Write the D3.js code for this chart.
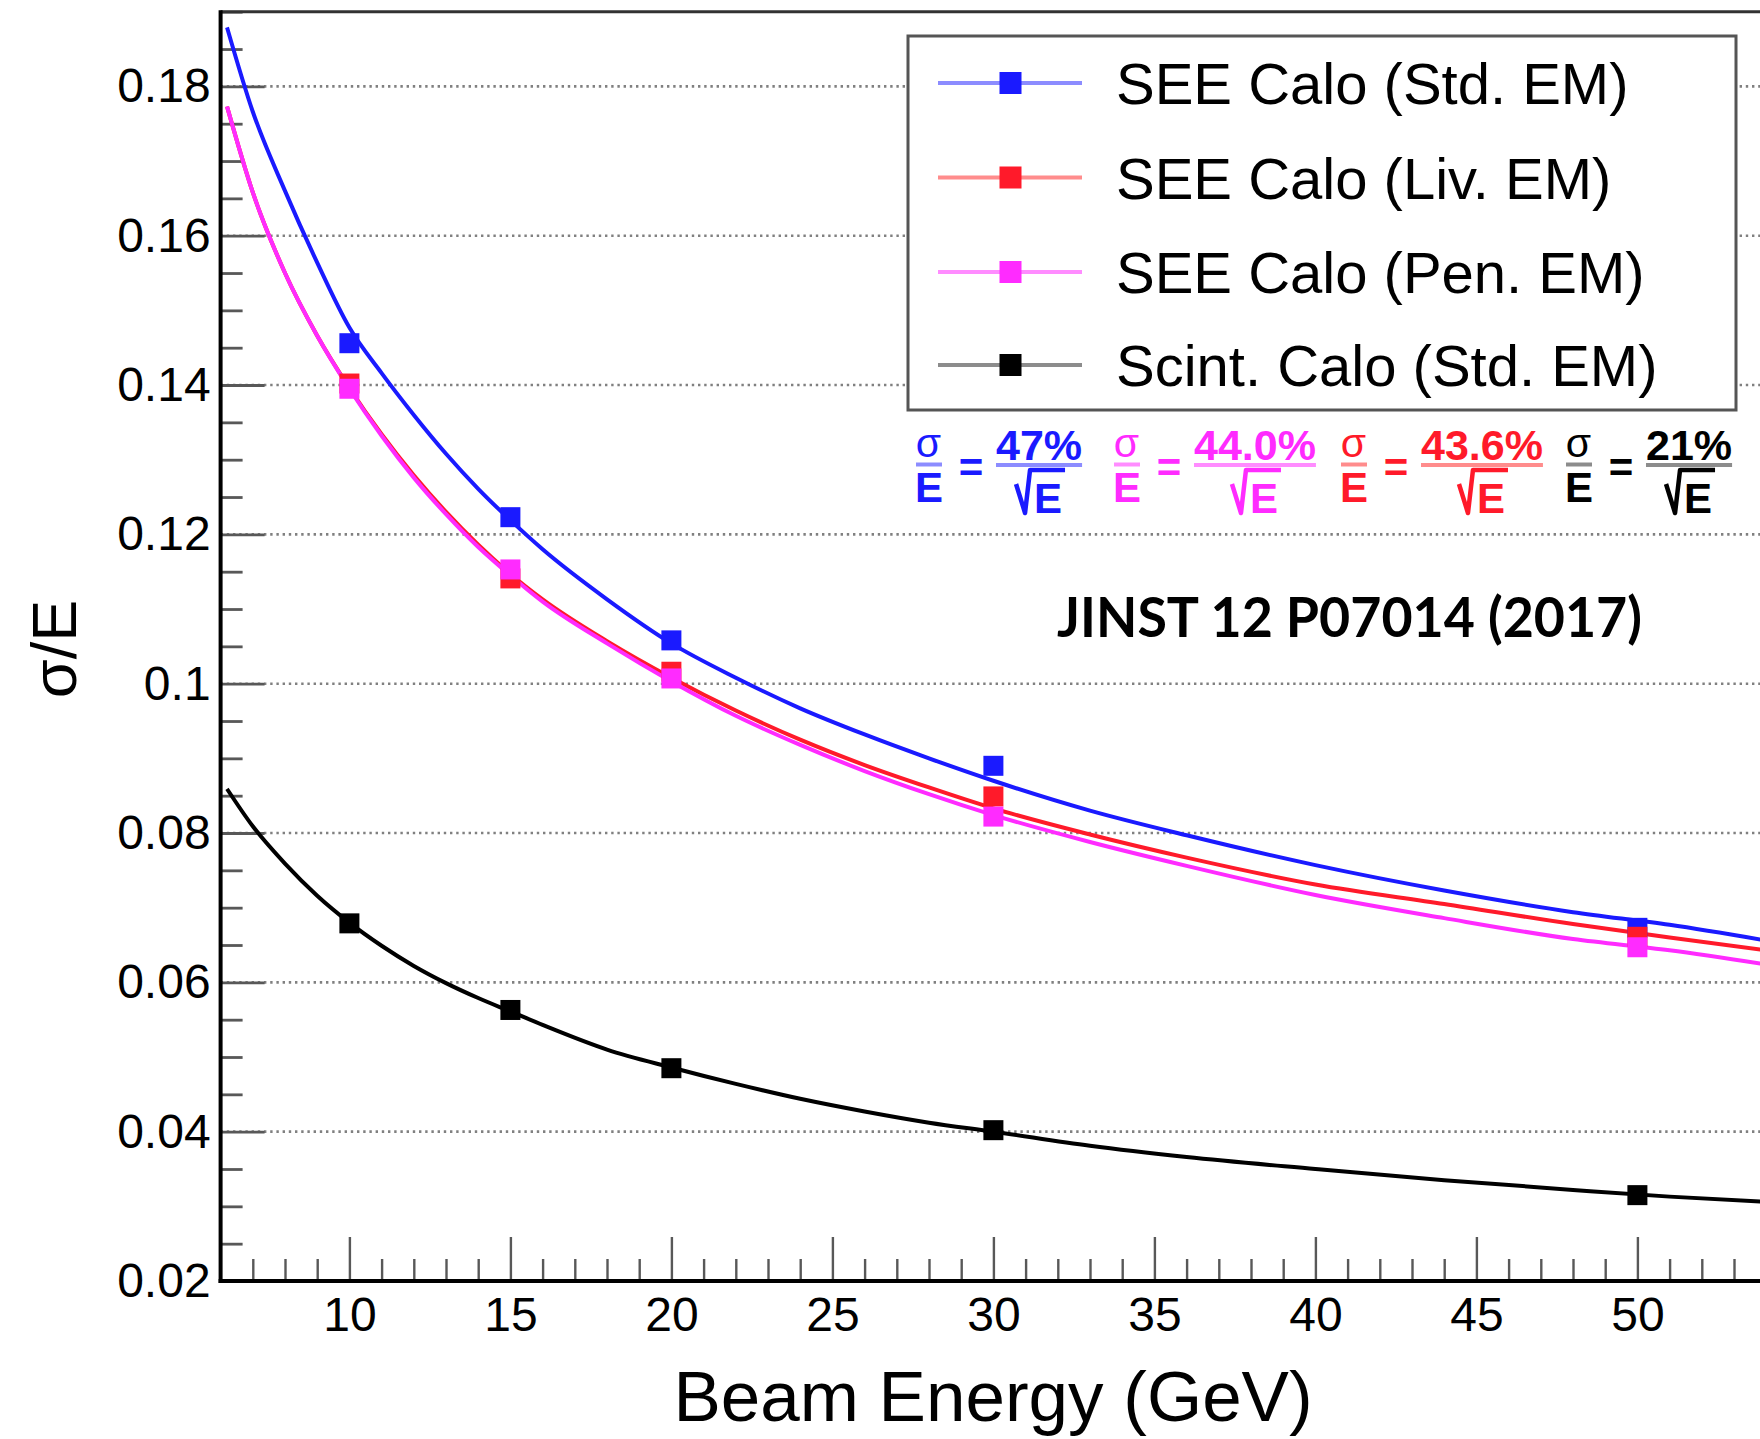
<!DOCTYPE html>
<html><head><meta charset="utf-8">
<script src="https://cdn.jsdelivr.net/npm/d3@7"></script>
<style>body{margin:0;background:#fff} svg{display:block}</style>
</head><body><svg id="c" width="1760" height="1439"></svg>
<script>
// ---- data ----
const energies = [10, 15, 20, 30, 50];
const seeStd  = [0.1456, 0.1223, 0.1058, 0.0890, 0.0673];
const seeLiv  = [0.1402, 0.1141, 0.1016, 0.0849, 0.0661];
const seePen  = [0.1395, 0.1153, 0.1007, 0.0822, 0.0647];
const scint   = [0.0679, 0.0563, 0.0485, 0.0402, 0.0315];

const fitE    = [6.2, 7, 8, 9, 10, 11, 12, 13, 14, 15, 16, 18, 20, 22, 24, 26, 28, 30, 33, 36, 40, 44, 48, 51, 54];
const fitStd  = [0.1879, 0.1766, 0.1660, 0.1564, 0.1477, 0.1416, 0.1360, 0.1308, 0.1261, 0.1219, 0.1180, 0.1113, 0.1054, 0.1008, 0.0967, 0.0932, 0.0900, 0.0870, 0.0830, 0.0797, 0.0757, 0.0723, 0.0694, 0.0677, 0.0656];
const fitLiv  = [0.1773, 0.1658, 0.1550, 0.1466, 0.1396, 0.1334, 0.1279, 0.1230, 0.1186, 0.1147, 0.1113, 0.1057, 0.1008, 0.0964, 0.0925, 0.0891, 0.0861, 0.0833, 0.0798, 0.0767, 0.0731, 0.0705, 0.0678, 0.0660, 0.0643];
const fitPen  = [0.1773, 0.1658, 0.1550, 0.1466, 0.1395, 0.1332, 0.1276, 0.1227, 0.1183, 0.1145, 0.1110, 0.1054, 0.1003, 0.0957, 0.0918, 0.0883, 0.0852, 0.0824, 0.0788, 0.0756, 0.0717, 0.0686, 0.0658, 0.0643, 0.0624];
const fitScint= [0.0859, 0.0809, 0.0759, 0.0716, 0.0680, 0.0649, 0.0622, 0.0599, 0.0579, 0.0561, 0.0543, 0.0510, 0.0486, 0.0464, 0.0444, 0.0427, 0.0412, 0.0400, 0.0381, 0.0366, 0.0350, 0.0335, 0.0322, 0.0313, 0.0306];

const legendLabels = ["SEE Calo (Std. EM)", "SEE Calo (Liv. EM)", "SEE Calo (Pen. EM)", "Scint. Calo (Std. EM)"];
const resolutionLabels = ["47%", "44.0%", "43.6%", "21%"]; // Std, Pen, Liv, Scint (as printed left to right)
const xTicks = [10, 15, 20, 25, 30, 35, 40, 45, 50];
const yTicks = [0.02, 0.04, 0.06, 0.08, 0.10, 0.12, 0.14, 0.16, 0.18];
const yTickLabels = ["0.02", "0.04", "0.06", "0.08", "0.1", "0.12", "0.14", "0.16", "0.18"];
const xTitle = "Beam Energy (GeV)";
const yTitle = "σ/E";
const refText = "JINST 12 P07014 (2017)";

// ---- styles ----
const FONT = "'Liberation Sans', Arial, Helvetica, sans-serif";
const colors = ["#1a1aff", "#ff1a2a", "#ff2bff", "#000000"];
const lightColors = ["#8c8cff", "#ff8c8c", "#ff8cff", "#8c8c8c"];

const svg = d3.select("#c");
svg.append("rect").attr("width", 1760).attr("height", 1439).attr("fill", "#fff");

const L = 220.6, R = 1766.2, T = 11.7, B = 1281;
const x = d3.scaleLinear().domain([6, 54]).range([L, R]);
const y = d3.scaleLinear().domain([0.02, 0.19]).range([B, T]);

svg.append("defs").append("clipPath").attr("id", "plot")
  .append("rect").attr("x", L).attr("y", T).attr("width", R - L).attr("height", B - T);

// gridlines
svg.append("g").selectAll("line").data(yTicks.filter(v => v > 0.021)).join("line")
  .attr("x1", L).attr("x2", R).attr("y1", d => y(d)).attr("y2", d => y(d))
  .attr("stroke", "#808080").attr("stroke-width", 2.6).attr("stroke-dasharray", "2.4,3.8");

// axes
const yMinor = d3.range(0.02, 0.1901, 0.005).map(v => +v.toFixed(3)).filter(v => !yTicks.some(t => Math.abs(t - v) < 1e-6));
const xMinor = d3.range(7, 54, 1).filter(v => v % 5 !== 0);

const gy = svg.append("g").attr("transform", `translate(${L},0)`)
  .call(d3.axisLeft(y).tickValues(yTicks).tickFormat((d, i) => yTickLabels[i]).tickSizeInner(-44).tickSizeOuter(0).tickPadding(10));
const gym = svg.append("g").attr("transform", `translate(${L},0)`)
  .call(d3.axisLeft(y).tickValues(yMinor).tickFormat("").tickSizeInner(-22).tickSizeOuter(0));
const gx = svg.append("g").attr("transform", `translate(0,${B})`)
  .call(d3.axisBottom(x).tickValues(xTicks).tickSizeInner(-44).tickSizeOuter(0).tickPadding(16));
const gxm = svg.append("g").attr("transform", `translate(0,${B})`)
  .call(d3.axisBottom(x).tickValues(xMinor).tickFormat("").tickSizeInner(-22).tickSizeOuter(0));

[gy, gym, gx, gxm].forEach(g => {
  g.select(".domain").remove();
  g.selectAll(".tick line").attr("stroke", "#585858").attr("stroke-width", 2.8);
  g.selectAll(".tick text").attr("fill", "#000").style("font-family", FONT).style("font-size", "48px");
});
gx.selectAll(".tick line").attr("stroke-width", 2.4);
gxm.selectAll(".tick line").attr("stroke-width", 2.4);

// frame
svg.append("line").attr("x1", L).attr("x2", 1760).attr("y1", T).attr("y2", T).attr("stroke", "#333").attr("stroke-width", 3);
svg.append("line").attr("x1", L).attr("x2", L).attr("y1", T - 1.5).attr("y2", B + 2).attr("stroke", "#000").attr("stroke-width", 4);
svg.append("line").attr("x1", L - 2).attr("x2", 1760).attr("y1", B).attr("y2", B).attr("stroke", "#000").attr("stroke-width", 4);

// fit curves
const fits = [fitStd, fitLiv, fitPen, fitScint];
const line = d3.line().x(d => x(d[0])).y(d => y(d[1])).curve(d3.curveMonotoneX);
const cg = svg.append("g").attr("clip-path", "url(#plot)");
fits.forEach((f, i) => {
  cg.append("path").datum(fitE.map((e, k) => [e, f[k]]))
    .attr("d", line).attr("fill", "none").attr("stroke", colors[i]).attr("stroke-width", 4).attr("stroke-linejoin", "round");
});

// markers
const series = [seeStd, seeLiv, seePen, scint];
const MS = 20;
series.forEach((s, i) => {
  svg.append("g").selectAll("rect").data(energies.map((e, k) => [e, s[k]])).join("rect")
    .attr("x", d => x(d[0]) - MS / 2).attr("y", d => y(d[1]) - MS / 2)
    .attr("width", MS).attr("height", MS).attr("fill", colors[i]);
});

// legend
const lg = svg.append("g");
lg.append("rect").attr("x", 908).attr("y", 36).attr("width", 828).attr("height", 374)
  .attr("fill", "#fff").attr("stroke", "#555").attr("stroke-width", 3);
const rowY = [83, 177.5, 272, 365];
legendLabels.forEach((lab, i) => {
  lg.append("line").attr("x1", 938).attr("x2", 1082).attr("y1", rowY[i]).attr("y2", rowY[i])
    .attr("stroke", lightColors[i]).attr("stroke-width", 4);
  lg.append("rect").attr("x", 1010.5 - 11).attr("y", rowY[i] - 11).attr("width", 22).attr("height", 22).attr("fill", colors[i]);
  lg.append("text").attr("x", 1116).attr("y", rowY[i] + 21).style("font-family", FONT).style("font-size", "58px").attr("fill", "#000").text(lab);
});

// resolution formulas
function formula(x0, color, light, label) {
  const g = svg.append("g").attr("fill", color).style("font-family", FONT);
  g.append("text").attr("x", x0 + 12.5).attr("y", 457).attr("text-anchor", "middle").style("font-size", "41px").text("σ");
  g.append("line").attr("x1", x0).attr("x2", x0 + 26).attr("y1", 464.5).attr("y2", 464.5).attr("stroke", light).attr("stroke-width", 4);
  g.append("text").attr("x", x0 + 13).attr("y", 502).attr("text-anchor", "middle").style("font-size", "42px").style("font-weight", "bold").text("E");
  g.append("text").attr("x", x0 + 55).attr("y", 482).attr("text-anchor", "middle").style("font-size", "42px").style("font-weight", "bold").text("=");
  const num = g.append("text").attr("x", x0 + 80).attr("y", 460).style("font-size", "43px").style("font-weight", "bold").text(label);
  const w = num.node().getComputedTextLength();
  g.append("line").attr("x1", x0 + 80).attr("x2", x0 + 80 + w).attr("y1", 465).attr("y2", 465).attr("stroke", light).attr("stroke-width", 4);
  const cx = x0 + 80 + w / 2;
  g.append("text").attr("x", cx + 9).attr("y", 513).attr("text-anchor", "middle").style("font-size", "42px").style("font-weight", "bold").text("E");
  g.append("path").attr("d", `M${cx - 23},484 L${cx - 14},513 L${cx - 9},470 H${cx + 26}`)
    .attr("fill", "none").attr("stroke", color).attr("stroke-width", 4.5).attr("stroke-linejoin", "round");
}
formula(916, colors[0], lightColors[0], resolutionLabels[0]);
formula(1114, colors[2], lightColors[2], resolutionLabels[1]);
formula(1341, colors[1], lightColors[1], resolutionLabels[2]);
formula(1566, colors[3], lightColors[3], resolutionLabels[3]);

// reference text
svg.append("text").attr("x", 1057).attr("y", 637).style("font-family", "Lato, 'Open Sans', sans-serif")
  .style("font-weight", "bold").style("font-size", "55px").attr("textLength", 585).attr("lengthAdjust", "spacingAndGlyphs").text(refText);

// axis titles
svg.append("text").attr("x", 993).attr("y", 1421).attr("text-anchor", "middle")
  .style("font-family", FONT).style("font-size", "71px").text(xTitle);
svg.append("text").attr("transform", "translate(76,649) rotate(-90)").attr("text-anchor", "middle")
  .style("font-family", FONT).style("font-size", "63px").text(yTitle);
</script></body></html>
